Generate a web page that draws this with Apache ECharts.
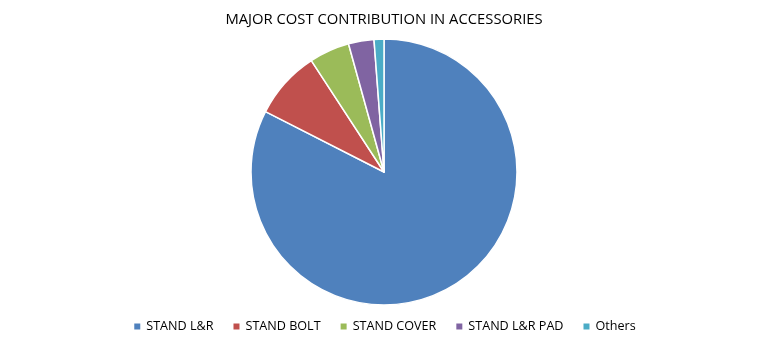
<!DOCTYPE html>
<html><head><meta charset="utf-8">
<script src="https://cdn.jsdelivr.net/npm/echarts@6/dist/echarts.min.js"></script>
<style>html,body{margin:0;padding:0;background:#fff}#c{width:768px;height:345px}</style>
</head><body><div id="c"></div>
<script>
const categories = ['STAND L&R', 'STAND BOLT', 'STAND COVER', 'STAND L&R PAD', 'Others'];
const values = [82.5, 8.3, 4.9, 3.1, 1.2];
const colors = ['#4F81BD', '#C0504D', '#9BBB59', '#8064A2', '#4BACC6'];
const titleText = 'MAJOR COST CONTRIBUTION IN ACCESSORIES';

const chart = echarts.init(document.getElementById('c'));
chart.setOption({
  animation: false,
  color: colors,
  title: {
    text: titleText, left: 'center', top: 7,
    textStyle: { fontFamily: 'Open Sans', fontSize: 14.8, fontWeight: 'normal', color: '#000' }
  },
  legend: {
    bottom: 7, left: 'center', itemWidth: 8, itemHeight: 8, itemGap: 18,
    icon: 'rect',
    textStyle: { fontFamily: 'Open Sans', fontSize: 12.6, color: '#000' },
    data: categories
  },
  series: [{
    type: 'pie', center: [384, 172], radius: 133, startAngle: 90, clockwise: true,
    label: { show: false }, labelLine: { show: false },
    emphasis: { disabled: true },
    itemStyle: { borderColor: '#fff', borderWidth: 1.5 },
    data: categories.map((n, i) => ({ name: n, value: values[i] }))
  }]
});
</script></body></html>
